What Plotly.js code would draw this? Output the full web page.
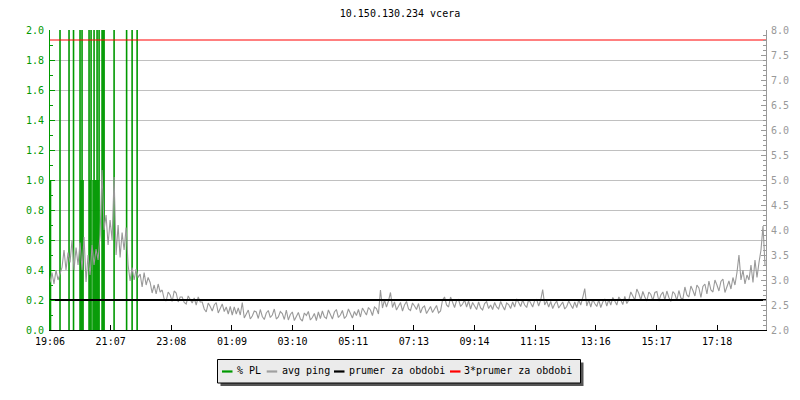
<!DOCTYPE html>
<html>
<head>
<meta charset="utf-8">
<script src="https://cdn.plot.ly/plotly-3.0.1.min.js"></script>
<style>html,body{margin:0;padding:0;background:#fff;}#chart{width:800px;height:400px;}</style>
</head>
<body>
<div id="chart"></div>
<script>
// ---- data ----
const chartTitle = "10.150.130.234 vcera";
const pingStepMin = 4;          // sample interval of avg ping (minutes)
const spanMin = 1430;           // shown period (minutes)
const tickStepMin = 121.12;     // x tick spacing (minutes)
// avg ping [ms], right axis, one value every 4 minutes from 19:06
const avgPing = [
  2.95,3.15,2.92,3.2,3.0,3.12,
  3.25,3.6,3.2,3.55,3.35,
  3.8,3.2,3.65,3.3,3.75,
  3.2,3.86,2.96,3.5,3.1,3.7,3.3,3.62,3.4,
  3.9,5.2,4.0,
  4.3,3.7,4.2,3.8,5.06,
  3.5,4.1,3.45,3.95,3.6,4.05,
  3.3,2.98,3.25,3.0,3.22,3.05,
  3.12,2.86,3.15,2.9,3.05,
  2.95,2.74,2.9,2.72,2.92,2.76,
  2.8,2.62,2.58,2.76,2.7,2.57,2.78,2.74,2.56,2.66,
  2.66,2.55,2.52,2.68,2.6,2.54,2.64,2.5,2.66,2.56,
  2.56,2.42,2.36,2.54,2.47,2.38,2.5,2.55,2.34,2.44,2.52,2.37,2.46,2.32,
  2.47,2.3,2.46,2.32,2.44,2.3,
  2.55,2.24,2.33,2.4,2.22,2.28,2.38,2.36,2.23,2.41,2.27,2.21,2.34,2.39,2.25,2.3,2.42,2.22,2.26,2.37,2.33,2.21,2.4,
  2.2,2.31,2.36,2.19,2.27,2.35,2.22,2.18,2.34,2.29,2.37,2.2,2.25,2.33,2.19,2.36,2.23,
  2.38,2.26,2.23,2.4,2.31,2.22,2.36,2.41,2.25,2.3,2.39,2.23,2.28,2.42,2.33,2.24,2.37,2.29,2.41,2.26,
  2.44,2.36,2.3,2.45,2.4,2.29,2.46,2.43,2.32,
  2.8,2.44,2.6,2.46,2.58,2.75,2.45,
  2.56,2.4,2.47,2.55,2.38,2.5,2.57,2.42,2.39,2.54,2.48,2.41,2.53,
  2.34,2.45,2.48,2.33,2.4,2.47,2.35,2.43,2.49,2.34,2.38,
  2.6,2.66,2.5,2.46,2.66,2.55,2.45,2.59,2.61,2.47,2.52,2.6,2.46,2.58,
  2.42,2.55,2.49,2.41,2.56,2.44,2.4,2.53,2.57,2.43,2.5,2.41,2.55,2.46,2.42,2.57,2.48,2.4,2.54,2.51,2.43,2.56,
  2.46,2.62,2.55,2.47,2.6,2.5,2.45,2.61,2.54,2.46,2.59,2.61,2.48,
  2.6,2.81,2.5,2.58,2.46,
  2.57,2.43,2.52,2.58,2.44,2.49,2.56,2.42,2.47,2.58,2.51,2.43,2.56,2.45,2.6,
  2.5,2.65,2.83,2.48,2.6,
  2.46,2.61,2.53,2.47,2.6,2.45,2.56,2.62,2.48,2.61,
  2.5,2.65,2.58,2.5,2.66,2.6,2.51,2.67,2.53,
  2.6,2.76,2.69,2.6,2.82,2.73,2.6,2.77,2.66,2.58,2.76,2.71,2.59,2.75,2.77,
  2.58,2.7,2.76,2.6,2.78,2.65,2.57,2.77,2.72,2.59,2.79,2.64,2.62,
  2.86,2.7,2.66,2.88,2.79,2.68,2.9,2.84,2.65,2.87,2.92,2.72,
  2.98,2.8,2.76,3.0,2.9,2.78,2.97,3.02,2.75,2.88,2.98,2.82,3.05,
  2.9,3.15,3.5,3.0,3.2,2.92,3.1,
  3.0,3.3,2.95,3.4,3.05,3.35,
  3.6,4.08,3.3
];
// packet loss events: minutes after start, % PL (left axis)
const plMinutes = [1,20,38,47,60,62,64,66,78,80,82,86,88,90,92,94,96,98,104,106,108,128,153,164,174];
const plValues  = [1, 2, 2, 2, 2, 1, 2, 1, 2, 1, 2, 1, 2, 1, 1, 2, 1, 2, 2, 2, 2, 2, 2, 2, 2];
const avgValue = 2.6;            // prumer za obdobi
const avgTimes3 = 7.8;           // 3*prumer za obdobi
const seriesNames = ["% PL", "avg ping", "prumer za obdobi", "3*prumer za obdobi"];
const seriesColors = ["#009900", "#a0a0a0", "#000000", "#ff0000"];

// ---- helpers ----
const t0 = Date.UTC(2024, 4, 1, 19, 6, 20);
function at(min) {
  return new Date(t0 + min * 60000).toISOString().slice(0, 19).replace('T', ' ');
}
const pingX = avgPing.map((_, i) => at(i * pingStepMin));
const plX = [], plY = [];
plMinutes.forEach((m, i) => { plX.push(at(m), at(m), null); plY.push(0, plValues[i], null); });
const xEnds = [at(0), at(spanMin)];

const mono = "DejaVu Sans Mono, Liberation Mono, monospace";
const green = seriesColors[0];
const grey = "#999999";

const traces = [
  {x: plX, y: plY, type: "scatter", mode: "lines", name: seriesNames[0],
   line: {color: seriesColors[0], width: 1.6}, yaxis: "y", connectgaps: false},
  {x: pingX, y: avgPing, type: "scatter", mode: "lines", name: seriesNames[1],
   line: {color: grey, width: 1.1}, yaxis: "y2"},
  {x: xEnds, y: [avgValue, avgValue], type: "scatter", mode: "lines", name: seriesNames[2],
   line: {color: seriesColors[2], width: 2.2}, yaxis: "y2"},
  {x: xEnds, y: [avgTimes3, avgTimes3], type: "scatter", mode: "lines", name: seriesNames[3],
   line: {color: seriesColors[3], width: 1}, yaxis: "y2"}
];

// legend drawn in paper coordinates (pixel helpers for the 716x300 plot area)
const px = v => (v - 50) / 716;
const py = v => (330 - v) / 300;
const legendShapes = [
  {type: "rect", xref: "paper", yref: "paper", x0: px(220.5), x1: px(583.5), y0: py(362.5), y1: py(386),
   fillcolor: "#555555", line: {width: 0}, layer: "above"},
  {type: "rect", xref: "paper", yref: "paper", x0: px(217.5), x1: px(580.5), y0: py(359.5), y1: py(383),
   fillcolor: "#ebebeb", line: {color: "#000", width: 1}, layer: "above"}
];
const dashX = [222, 266.7, 334, 450];
const textX = [236, 280.5, 348, 462.8];
const annotations = [];
seriesNames.forEach((n, i) => {
  legendShapes.push({type: "line", xref: "paper", yref: "paper", x0: px(dashX[i]), x1: px(dashX[i] + 10.5),
    y0: py(371.5), y1: py(371.5), line: {color: seriesColors[i], width: 2.2}, layer: "above"});
  annotations.push({xref: "paper", yref: "paper", x: px(textX[i]), y: py(370.8), xanchor: "left", yanchor: "middle",
    text: n, showarrow: false, borderpad: 0, font: {family: mono, size: 10, color: "#000"}});
});

const layout = {
  width: 800, height: 400,
  margin: {l: 50, r: 34, t: 30, b: 70},
  paper_bgcolor: "#ffffff", plot_bgcolor: "#ffffff",
  font: {family: mono, size: 10, color: "#000"},
  title: {text: chartTitle, x: 0.5, xanchor: "center", y: 0.967, yanchor: "middle",
          font: {family: mono, size: 10, color: "#000"}},
  showlegend: false,
  shapes: legendShapes,
  annotations: annotations,
  xaxis: {type: "date", range: xEnds, tick0: at(0), dtick: tickStepMin * 60000,
          tickformat: "%H:%M", ticks: "inside", ticklen: 5, tickcolor: "#000",
          showline: true, linecolor: "#000", linewidth: 1, showgrid: false, zeroline: false,
          ticklabelstandoff: 2,
          tickfont: {family: mono, size: 10, color: "#000"}},
  yaxis: {range: [0, 2], dtick: 0.2, tickformat: ".1f", ticks: "inside", ticklen: 5,
          tickcolor: green, showline: true, linecolor: green, linewidth: 1,
          gridcolor: "#c0c0c0", gridwidth: 1, zeroline: false, ticklabelstandoff: 3,
          tickfont: {family: mono, size: 10, color: green},
          minor: {dtick: 0.1, ticks: "inside", ticklen: 3, tickcolor: green, showgrid: false}},
  yaxis2: {range: [2, 8], dtick: 0.5, tickformat: ".1f", overlaying: "y", side: "right",
           ticks: "inside", ticklen: 5, tickcolor: grey, showline: true, linecolor: grey,
           showgrid: false, zeroline: false, ticklabelstandoff: 2,
           tickfont: {family: mono, size: 10, color: grey},
           minor: {dtick: 0.1, ticks: "inside", ticklen: 3, tickcolor: grey, showgrid: false}}
};

Plotly.newPlot("chart", traces, layout, {displayModeBar: false, staticPlot: true});
</script>
</body>
</html>
